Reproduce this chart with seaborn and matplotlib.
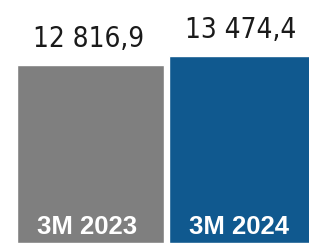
import matplotlib
matplotlib.use('Agg')
import matplotlib.pyplot as plt
import seaborn as sns
import pandas as pd

# data
periods = ['3M 2023', '3M 2024']
values = [12816.9, 13474.4]
value_labels = ['12 816,9', '13 474,4']
bar_colors = ['#7F7F7F', '#10598F']

df = pd.DataFrame({'period': periods, 'value': values})

sns.set_style('white')
fig = plt.figure(figsize=(3.09, 2.43), dpi=100)
ax = fig.add_axes([0, 0, 1, 1])

sns.barplot(data=df, x='period', y='value', hue='period', palette=bar_colors,
            width=0.967, saturation=1, legend=False, ax=ax)

ax.set_xlim(-0.595, 1.4375)
ax.set_ylim(0, 17510)
ax.axis('off')

# value labels above bars, period labels inside at the bottom
for i, (v, lab, per) in enumerate(zip(values, value_labels, periods)):
    ax.annotate(lab, (i - 0.015, v), xytext=(0, 13), textcoords='offset points',
                ha='center', va='baseline', fontsize=20, color='#1a1a1a',
                family='DejaVu Sans', fontstretch='condensed', fontweight='light')
    ax.annotate(per, (i - 0.02, 0), xytext=(0, 6.5), textcoords='offset points',
                ha='center', va='baseline', fontsize=18.5, color='white',
                fontweight='bold', family=['Liberation Sans', 'DejaVu Sans'])

fig.savefig('out.png', dpi=100)
